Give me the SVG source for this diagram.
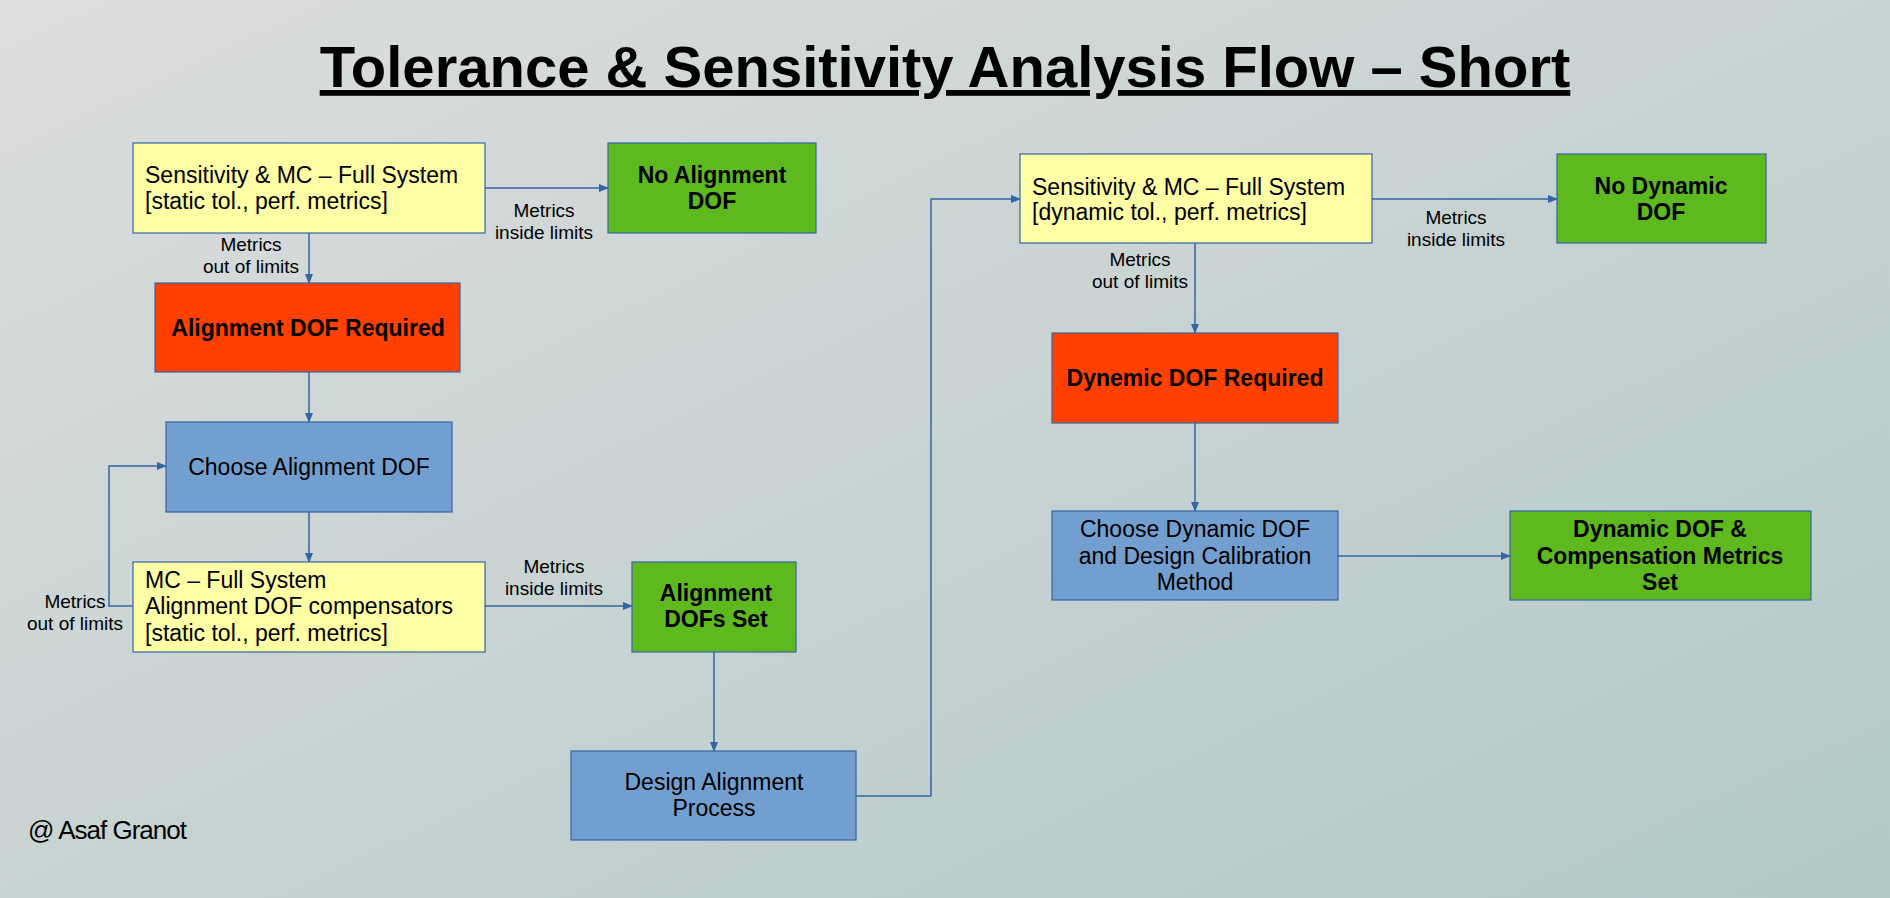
<svg xmlns="http://www.w3.org/2000/svg" width="1890" height="898" viewBox="0 0 1890 898">
<defs>
<linearGradient id="bg" x1="0" y1="0" x2="1" y2="1">
<stop offset="0" stop-color="#dddddd"/><stop offset="1" stop-color="#b2c9c8"/>
</linearGradient>
<marker id="ar" markerWidth="10" markerHeight="10" refX="9" refY="5" orient="auto" markerUnits="userSpaceOnUse"><path d="M0,1 L10,5 L0,9 Z" fill="#3465a4"/></marker>
<style>
text{font-family:"Liberation Sans",Arial,sans-serif;fill:#000}
.n{stroke:#3465a4;stroke-width:1.2}
.y{fill:#ffffa6}.g{fill:#5eb91e}.r{fill:#ff4000}.b{fill:#729fcf}
.t{font-size:23px}.bt{font-size:23px;font-weight:bold}
.l{font-size:19px;text-anchor:middle}
.c{text-anchor:middle}
.e{fill:none;stroke:#3465a4;stroke-width:1.5;marker-end:url(#ar)}
</style>
</defs>
<rect width="1890" height="898" fill="url(#bg)"/>
<text x="945" y="87" text-anchor="middle" font-size="58" font-weight="bold" text-decoration="underline">Tolerance &amp; Sensitivity Analysis Flow – Short</text>
<g id="connectors">
<path class="e" d="M309,233 V283"/>
<path class="e" d="M485,188 H608"/>
<path class="e" d="M309,372 V422"/>
<path class="e" d="M309,512 V562"/>
<path class="e" d="M133,606 H109 V466 H166"/>
<path class="e" d="M485,606 H632"/>
<path class="e" d="M714,652 V751"/>
<path class="e" d="M856,796 H931 V199 H1020"/>
<path class="e" d="M1372,199 H1557"/>
<path class="e" d="M1195,243 V333"/>
<path class="e" d="M1195,423 V511"/>
<path class="e" d="M1338,556 H1510"/>
<text class="l" x="251" y="251">Metrics</text><text class="l" x="251" y="273">out of limits</text>
<text class="l" x="544" y="217">Metrics</text><text class="l" x="544" y="239">inside limits</text>
<text class="l" x="554" y="573">Metrics</text><text class="l" x="554" y="595">inside limits</text>
<text class="l" x="75" y="608">Metrics</text><text class="l" x="75" y="630">out of limits</text>
<text class="l" x="1140" y="266">Metrics</text><text class="l" x="1140" y="288">out of limits</text>
<text class="l" x="1456" y="224">Metrics</text><text class="l" x="1456" y="246">inside limits</text>
</g>
<g id="n1"><rect class="n y" x="133" y="143" width="352" height="90"/><text class="t" x="145" y="183">Sensitivity &amp; MC – Full System</text><text class="t" x="145" y="209">[static tol., perf. metrics]</text></g>
<g id="n2"><rect class="n g" x="608" y="143" width="208" height="90"/><text class="bt c" x="712" y="183">No Alignment</text><text class="bt c" x="712" y="209">DOF</text></g>
<g id="n3"><rect class="n r" x="155" y="283" width="305" height="89"/><text class="bt c" x="308" y="336">Alignment DOF Required</text></g>
<g id="n4"><rect class="n b" x="166" y="422" width="286" height="90"/><text class="t c" x="309" y="475">Choose Alignment DOF</text></g>
<g id="n5"><rect class="n y" x="133" y="562" width="352" height="90"/><text class="t" x="145" y="588">MC – Full System</text><text class="t" x="145" y="614">Alignment DOF compensators</text><text class="t" x="145" y="641">[static tol., perf. metrics]</text></g>
<g id="n6"><rect class="n g" x="632" y="562" width="164" height="90"/><text class="bt c" x="716" y="601">Alignment</text><text class="bt c" x="716" y="627">DOFs Set</text></g>
<g id="n7"><rect class="n b" x="571" y="751" width="285" height="89"/><text class="t c" x="714" y="790">Design Alignment</text><text class="t c" x="714" y="816">Process</text></g>
<g id="n8"><rect class="n y" x="1020" y="154" width="352" height="89"/><text class="t" x="1032" y="195">Sensitivity &amp; MC – Full System</text><text class="t" x="1032" y="220">[dynamic tol., perf. metrics]</text></g>
<g id="n9"><rect class="n g" x="1557" y="154" width="209" height="89"/><text class="bt c" x="1661" y="194">No Dynamic</text><text class="bt c" x="1661" y="220">DOF</text></g>
<g id="n10"><rect class="n r" x="1052" y="333" width="286" height="90"/><text class="bt c" x="1195" y="386">Dynemic DOF Required</text></g>
<g id="n11"><rect class="n b" x="1052" y="511" width="286" height="89"/><text class="t c" x="1195" y="537">Choose Dynamic DOF</text><text class="t c" x="1195" y="564">and Design Calibration</text><text class="t c" x="1195" y="590">Method</text></g>
<g id="n12"><rect class="n g" x="1510" y="511" width="301" height="89"/><text class="bt c" x="1660" y="537">Dynamic DOF &amp;</text><text class="bt c" x="1660" y="564">Compensation Metrics</text><text class="bt c" x="1660" y="590">Set</text></g>
<text x="28" y="839" font-size="26" letter-spacing="-1">@ Asaf Granot</text>
</svg>
